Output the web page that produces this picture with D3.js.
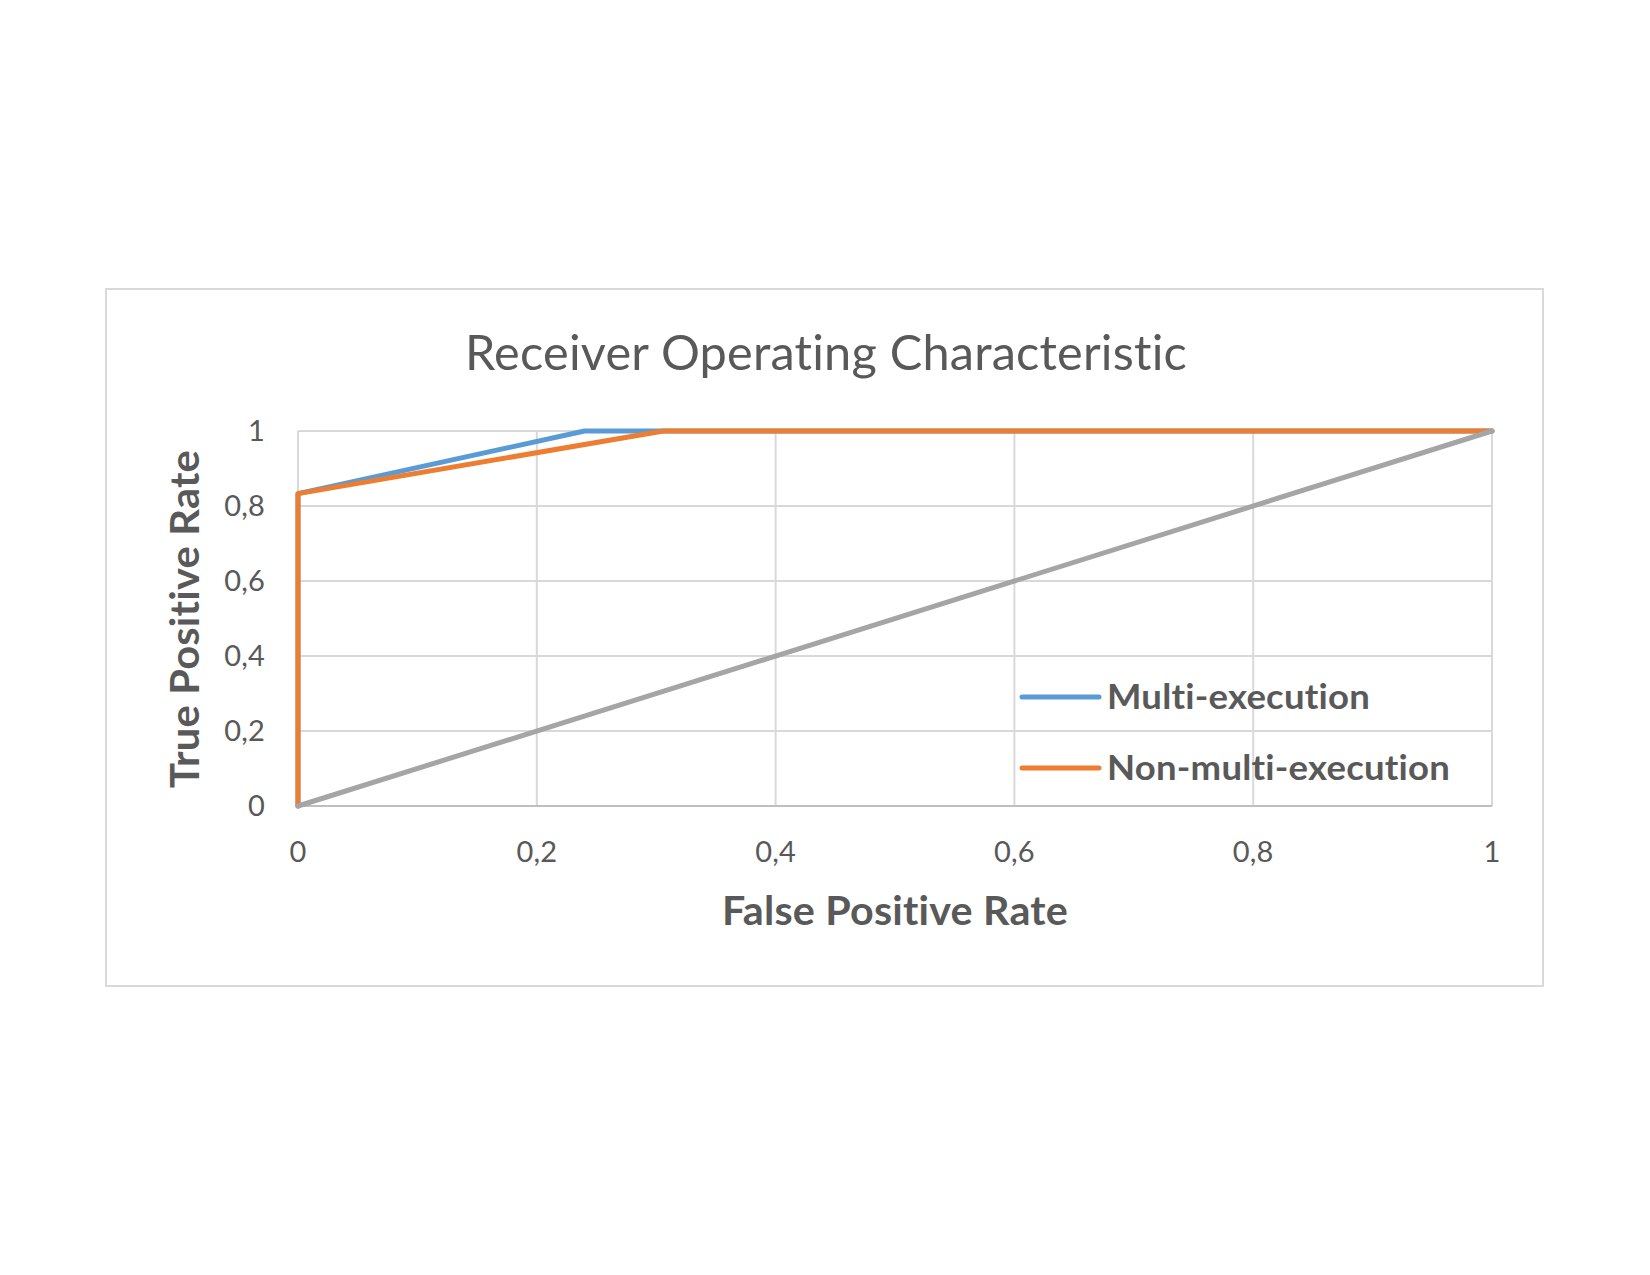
<!DOCTYPE html>
<html>
<head>
<meta charset="utf-8">
<script src="https://cdn.jsdelivr.net/npm/d3@7"></script>
<style>
  html, body { margin: 0; padding: 0; background: #ffffff; }
  svg { display: block; }
  text { font-variant-ligatures: none; font-feature-settings: "liga" 0, "clig" 0, "dlig" 0; letter-spacing: 0.2px; }
</style>
</head>
<body>
<script>
// ---- data ----
const seriesNames = ["Multi-execution", "Non-multi-execution"];
const seriesColors = ["#5B9BD5", "#ED7D31"];
const multiFPR = [0, 0, 0.24, 1];
const multiTPR = [0, 0.833, 1, 1];
const nonMultiFPR = [0, 0, 0.306, 1];
const nonMultiTPR = [0, 0.833, 1, 1];
const chanceFPR = [0, 1];
const chanceTPR = [0, 1];
const xTicks = [0, 0.2, 0.4, 0.6, 0.8, 1];
const yTicks = [0, 0.2, 0.4, 0.6, 0.8, 1];
const titleText = "Receiver Operating Characteristic";
const xTitle = "False Positive Rate";
const yTitle = "True Positive Rate";

const W = 1650, H = 1275;
const font = "Lato, 'Open Sans', 'DejaVu Sans', sans-serif";
const textColor = "#595959";

const svg = d3.select("body").append("svg").attr("width", W).attr("height", H);
svg.append("rect").attr("width", W).attr("height", H).attr("fill", "#fff");

// chart frame
svg.append("rect").attr("x", 106).attr("y", 289).attr("width", 1437).attr("height", 697)
  .attr("fill", "#fff").attr("stroke", "#D9D9D9").attr("stroke-width", 2);

const x = d3.scaleLinear().domain([0, 1]).range([298, 1492]);
const y = d3.scaleLinear().domain([0, 1]).range([806, 431]);
const fmt = v => String(v).replace(".", ",");

// gridlines
const grid = svg.append("g");
grid.selectAll(".vg").data(xTicks).join("line")
  .attr("x1", d => x(d)).attr("x2", d => x(d)).attr("y1", y(0)).attr("y2", y(1))
  .attr("stroke", "#D9D9D9").attr("stroke-width", 2);
grid.selectAll(".hg").data(yTicks.filter(d => d > 0)).join("line")
  .attr("x1", x(0)).attr("x2", x(1)).attr("y1", d => y(d)).attr("y2", d => y(d))
  .attr("stroke", "#D9D9D9").attr("stroke-width", 2);
// x axis line
svg.append("line").attr("x1", x(0)).attr("x2", x(1)).attr("y1", y(0)).attr("y2", y(0))
  .attr("stroke", "#BFBFBF").attr("stroke-width", 2);

// tick labels
svg.append("g").selectAll("text").data(xTicks).join("text")
  .attr("x", d => x(d)).attr("y", y(0) + 56)
  .attr("text-anchor", "middle").attr("font-family", font).attr("font-size", 29)
  .attr("fill", textColor).text(fmt);
svg.append("g").selectAll("text").data(yTicks).join("text")
  .attr("x", 265).attr("y", d => y(d) + 10)
  .attr("text-anchor", "end").attr("font-family", font).attr("font-size", 29)
  .attr("fill", textColor).text(fmt);

// lines
const line = d3.line().x(d => x(d[0])).y(d => y(d[1]));
const zip = (a, b) => a.map((v, i) => [v, b[i]]);
const series = [
  { pts: zip(multiFPR, multiTPR), color: seriesColors[0] },
  { pts: zip(nonMultiFPR, nonMultiTPR), color: seriesColors[1] },
  { pts: zip(chanceFPR, chanceTPR), color: "#A5A5A5" }
];
svg.append("g").selectAll("path").data(series).join("path")
  .attr("d", d => line(d.pts)).attr("fill", "none")
  .attr("stroke", d => d.color).attr("stroke-width", 5)
  .attr("stroke-linejoin", "round").attr("stroke-linecap", "round");

// title
svg.append("text").attr("x", 826).attr("y", 370).attr("text-anchor", "middle")
  .attr("font-family", font).attr("font-size", 49).attr("fill", textColor)
  .attr("textLength", 722).attr("lengthAdjust", "spacingAndGlyphs").text(titleText);

// axis titles
svg.append("text").attr("x", 895).attr("y", 925).attr("text-anchor", "middle")
  .attr("font-family", font).attr("font-size", 40).attr("font-weight", "bold").attr("fill", textColor)
  .attr("textLength", 346).attr("lengthAdjust", "spacingAndGlyphs").text(xTitle);
svg.append("text").attr("transform", "translate(199,619) rotate(-90)").attr("text-anchor", "middle")
  .attr("font-family", font).attr("font-size", 40).attr("font-weight", "bold").attr("fill", textColor)
  .attr("textLength", 338).attr("lengthAdjust", "spacingAndGlyphs").text(yTitle);

// legend
const legendY = [697, 768];
const legendW = [263, 343];
const lg = svg.append("g");
seriesNames.forEach((name, i) => {
  lg.append("line").attr("x1", 1022).attr("x2", 1099).attr("y1", legendY[i]).attr("y2", legendY[i])
    .attr("stroke", seriesColors[i]).attr("stroke-width", 5).attr("stroke-linecap", "round");
  lg.append("text").attr("x", 1107).attr("y", legendY[i] + 12)
    .attr("font-family", font).attr("font-size", 35).attr("font-weight", "bold").attr("fill", textColor)
    .attr("textLength", legendW[i]).attr("lengthAdjust", "spacingAndGlyphs").text(name);
});
</script>
</body>
</html>
